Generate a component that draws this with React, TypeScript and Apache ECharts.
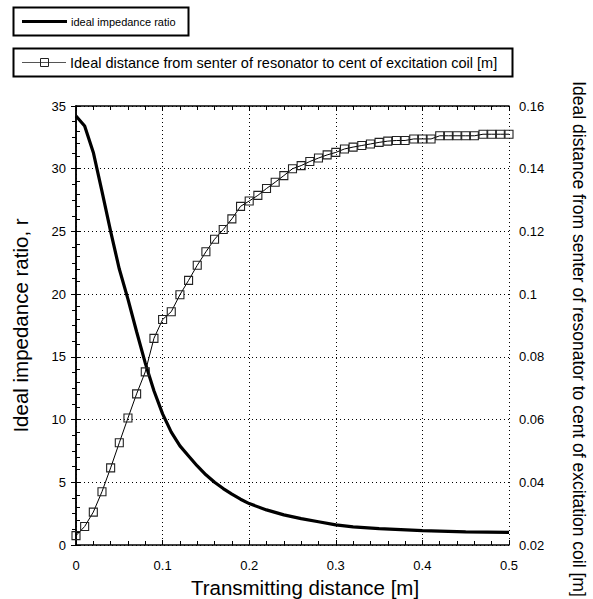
import React, { useEffect, useRef } from "react";
import * as echarts from "echarts";

const distanceX = [
  0, 0.01, 0.02, 0.03, 0.04, 0.05, 0.06, 0.07, 0.08, 0.09,
  0.1, 0.11, 0.12, 0.13, 0.14, 0.15, 0.16, 0.17, 0.18, 0.19,
  0.2, 0.21, 0.22, 0.23, 0.24, 0.25, 0.26, 0.27, 0.28, 0.29,
  0.3, 0.31, 0.32, 0.33, 0.34, 0.35, 0.36, 0.37, 0.38, 0.39,
  0.4, 0.41, 0.42, 0.43, 0.44, 0.45, 0.46, 0.47, 0.48, 0.49, 0.5,
];
const distanceValues = [
  0.023, 0.0259, 0.0305, 0.037, 0.0446, 0.0526, 0.0605, 0.0682, 0.0752, 0.0859,
  0.0919, 0.0944, 0.0998, 0.1044, 0.1092, 0.1135, 0.1175, 0.1206, 0.124, 0.128,
  0.1297, 0.1315, 0.1337, 0.1357, 0.1378, 0.14, 0.141, 0.1423, 0.1434, 0.1444,
  0.1452, 0.1463, 0.1469, 0.1474, 0.1479, 0.1484, 0.1488, 0.149, 0.149, 0.1495,
  0.1495, 0.1495, 0.1505, 0.1505, 0.1505, 0.1505, 0.1505, 0.151, 0.151, 0.151, 0.151,
];
const ratioX = [
  0, 0.01, 0.02, 0.03, 0.04, 0.05, 0.06, 0.07, 0.08, 0.09, 0.1, 0.11, 0.12, 0.13,
  0.14, 0.15, 0.16, 0.17, 0.18, 0.19, 0.2, 0.22, 0.24, 0.26, 0.28, 0.3, 0.32, 0.35,
  0.4, 0.45, 0.5,
];
const ratioValues = [
  34.2, 33.4, 31.3, 28.2, 25.0, 22.0, 19.6, 17.0, 14.5, 12.3, 10.45, 9.0, 7.9, 7.1,
  6.3, 5.6, 5.0, 4.5, 4.05, 3.65, 3.3, 2.8, 2.4, 2.1, 1.85, 1.6, 1.45, 1.3,
  1.15, 1.05, 1.0,
];

const ratioName = "ideal impedance ratio";
const distanceName = "Ideal distance from senter of resonator to cent of excitation coil [m]";
const xName = "Transmitting distance [m]";
const leftName = "Ideal impedance ratio, r";

const FONT = "'Liberation Sans', Arial, sans-serif";

export default function App() {
  const ref = useRef<HTMLDivElement>(null);
  useEffect(() => {
    const chart = echarts.init(ref.current!, null, { renderer: "svg" });
    const dotted = { type: [1, 3] as any, color: "#000", width: 1 };
    const axisLine = { show: true, lineStyle: { color: "#000", width: 1.5 } };
    const tick = { show: true, inside: true, length: 5, lineStyle: { color: "#000" } };
    const grid = {
      left: 76,
      right: 84,
      top: 106,
      bottom: 54,
      containLabel: false,
      outerBoundsMode: "none",
    };
    chart.setOption({
      animation: false,
      backgroundColor: "#fff",
      textStyle: { fontFamily: FONT },
      grid,
      xAxis: [
        {
          type: "value",
          min: 0,
          max: 0.5,
          interval: 0.1,
          position: "bottom",
          axisLine,
          axisTick: tick,
          minorTick: { show: true, splitNumber: 5, length: 4, lineStyle: { color: "#000" } },
          axisLabel: { color: "#000", fontSize: 13, margin: 14, fontFamily: FONT },
          splitLine: { show: true, lineStyle: dotted },
          name: xName,
          nameLocation: "middle",
          nameGap: 30,
          nameTextStyle: {
            color: "#000",
            fontSize: 20.5,
            fontFamily: FONT,
            padding: [0, 0, 0, 25],
          },
        },
        {
          type: "value",
          min: 0,
          max: 0.5,
          interval: 0.1,
          position: "top",
          axisLine,
          axisTick: tick,
          minorTick: { show: true, splitNumber: 5, length: 4, lineStyle: { color: "#000" } },
          axisLabel: { show: false },
          splitLine: { show: false },
        },
      ],
      yAxis: [
        {
          type: "value",
          min: 0,
          max: 35,
          interval: 5,
          position: "left",
          axisLine,
          axisTick: tick,
          minorTick: { show: true, splitNumber: 5, length: 4, lineStyle: { color: "#000" } },
          axisLabel: { color: "#000", fontSize: 13, margin: 10, fontFamily: FONT },
          splitLine: { show: true, lineStyle: dotted },
          name: leftName,
          nameLocation: "middle",
          nameGap: 45,
          nameTextStyle: { color: "#000", fontSize: 20.5, fontFamily: FONT },
        },
        {
          type: "value",
          min: 0.02,
          max: 0.16,
          interval: 0.02,
          position: "right",
          axisLine,
          axisTick: tick,
          minorTick: { show: true, splitNumber: 4, length: 4, lineStyle: { color: "#000" } },
          axisLabel: { color: "#000", fontSize: 13, margin: 10, fontFamily: FONT },
          splitLine: { show: false },
        },
      ],
      series: [
        {
          name: ratioName,
          type: "line",
          xAxisIndex: 0,
          yAxisIndex: 0,
          data: ratioX.map((x, i) => [x, ratioValues[i]]),
          showSymbol: false,
          symbol: "none",
          lineStyle: { color: "#000", width: 3.2 },
          clip: false,
          z: 3,
        },
        {
          name: distanceName,
          type: "line",
          xAxisIndex: 0,
          yAxisIndex: 1,
          data: distanceX.map((x, i) => [x, distanceValues[i]]),
          symbol: "rect",
          symbolSize: 8,
          showAllSymbol: true,
          itemStyle: { color: "rgba(0,0,0,0)", borderColor: "#222", borderWidth: 1.1 },
          lineStyle: { color: "#000", width: 1 },
          clip: false,
          z: 4,
        },
      ],
      graphic: [
        {
          type: "rect",
          shape: { x: 13.5, y: 7.5, width: 175, height: 28 },
          style: { fill: "#fff", stroke: "#000", lineWidth: 2 },
        },
        {
          type: "line",
          shape: { x1: 22, y1: 21.5, x2: 67, y2: 21.5 },
          style: { stroke: "#000", lineWidth: 3 },
        },
        {
          type: "text",
          x: 71,
          y: 21.5,
          style: {
            text: ratioName,
            fill: "#000",
            font: `11px ${FONT}`,
            verticalAlign: "middle",
          },
        },
        {
          type: "rect",
          shape: { x: 13.5, y: 48.5, width: 499, height: 28 },
          style: { fill: "#fff", stroke: "#000", lineWidth: 2 },
        },
        {
          type: "line",
          shape: { x1: 22, y1: 62.5, x2: 66, y2: 62.5 },
          style: { stroke: "#555", lineWidth: 1 },
        },
        {
          type: "rect",
          shape: { x: 40.5, y: 58.5, width: 8, height: 8 },
          style: { fill: "rgba(0,0,0,0)", stroke: "#222", lineWidth: 1 },
        },
        {
          type: "text",
          x: 70,
          y: 62.5,
          style: {
            text: distanceName,
            fill: "#000",
            font: `14.5px ${FONT}`,
            verticalAlign: "middle",
          },
        },
        {
          type: "text",
          x: 579,
          y: 339,
          rotation: -Math.PI / 2,
          style: {
            text: distanceName,
            fill: "#000",
            font: `17.5px ${FONT}`,
            align: "center",
            verticalAlign: "middle",
          },
        },
      ],
    });
    return () => chart.dispose();
  }, []);
  return (
    <div
      ref={ref}
      style={{ position: "fixed", left: 0, top: 0, width: 593, height: 599 }}
    />
  );
}
